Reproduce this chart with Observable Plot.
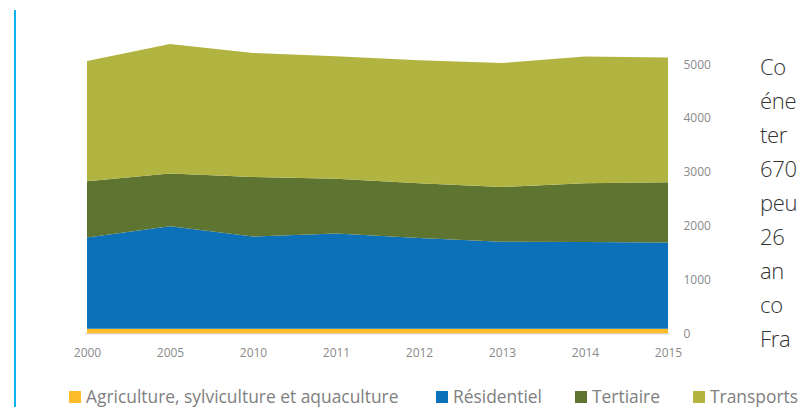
<!DOCTYPE html>
<html>
<head>
<meta charset="utf-8">
<script src="https://cdn.jsdelivr.net/npm/d3@7"></script>
<script src="https://cdn.jsdelivr.net/npm/@observablehq/plot@0.6"></script>
<style>
  html, body { margin: 0; padding: 0; background: #fff; }
  #page { position: relative; width: 798px; height: 407px; overflow: hidden; background: #fff; }
  #bar { position: absolute; left: 14px; top: 10px; width: 2px; height: 397px; background: #11B1F0; }
  #chart { position: absolute; left: 0; top: 0; }
  #para { position: absolute; left: 760px; top: 49px; font-family: "Open Sans", sans-serif; font-weight: 300; font-size: 22px; letter-spacing: -0.3px; line-height: 34px; color: #333; white-space: nowrap; }
  .leg { position: absolute; top: 388px; font-family: "Open Sans", sans-serif; font-size: 17.4px; line-height: 17px; color: #808080; white-space: nowrap; }
  .sw { position: absolute; top: 391px; width: 11.5px; height: 11.5px; }
</style>
</head>
<body>
<div id="page">
  <div id="bar"></div>
  <div id="chart"></div>
  <div id="para"></div>
  <div id="legend"></div>
</div>
<script>
const years = ["2000", "2005", "2010", "2011", "2012", "2013", "2014", "2015"];
const sectors = ["Agriculture, sylviculture et aquaculture", "Résidentiel", "Tertiaire", "Transports"];
const agriculture = [85, 85, 85, 85, 85, 85, 85, 85];
const residentiel = [1694, 1904, 1712, 1768, 1686, 1619, 1613, 1601];
const tertiaire = [1046, 979, 1108, 1022, 1017, 1015, 1090, 1121];
const transports = [2236, 2409, 2305, 2275, 2287, 2305, 2355, 2318];
const yTicks = [0, 1000, 2000, 3000, 4000, 5000];
const colors = ["#FDBC2A", "#0C71B9", "#5E7431", "#B2B441"];
const paragraph = ["Co", "éne", "ter", "670", "peu", "26", "an", "co", "Fra"];

const series = [agriculture, residentiel, tertiaire, transports];
const data = [];
sectors.forEach((s, i) => years.forEach((y, j) => data.push({year: y, sector: s, value: series[i][j]})));

const chart = Plot.plot({
  width: 798,
  height: 372,
  marginLeft: 85,
  marginRight: 129,
  marginTop: 64.3,
  marginBottom: 38.7,
  style: {fontFamily: "Open Sans", fontSize: "12px", background: "transparent"},
  x: {type: "point", domain: years, padding: 0, label: null},
  y: {domain: [0, 5000], label: null},
  color: {domain: sectors, range: colors},
  marks: [
    Plot.ruleY([0], {stroke: "#d9d9d9", strokeWidth: 1.5}),
    Plot.areaY(data, {x: "year", y: "value", fill: "sector", z: "sector", order: sectors}),
    Plot.axisX({tickSize: 0, tickPadding: 15, fill: "#8a8a8a", label: null, tickFormat: d => d}),
    Plot.axisY(yTicks, {anchor: "right", tickSize: 0, tickPadding: 14, fill: "#8a8a8a", label: null, tickFormat: d => String(d)})
  ]
});
document.getElementById("chart").appendChild(chart);

document.getElementById("para").innerHTML = paragraph.join("<br>");

const legendX = [69, 436, 575, 693];
const legend = document.getElementById("legend");
sectors.forEach((s, i) => {
  const sw = document.createElement("div");
  sw.className = "sw";
  sw.style.left = legendX[i] + "px";
  sw.style.background = colors[i];
  legend.appendChild(sw);
  const t = document.createElement("div");
  t.className = "leg";
  t.style.left = (legendX[i] + 17) + "px";
  t.textContent = s;
  legend.appendChild(t);
});
</script>
</body>
</html>
